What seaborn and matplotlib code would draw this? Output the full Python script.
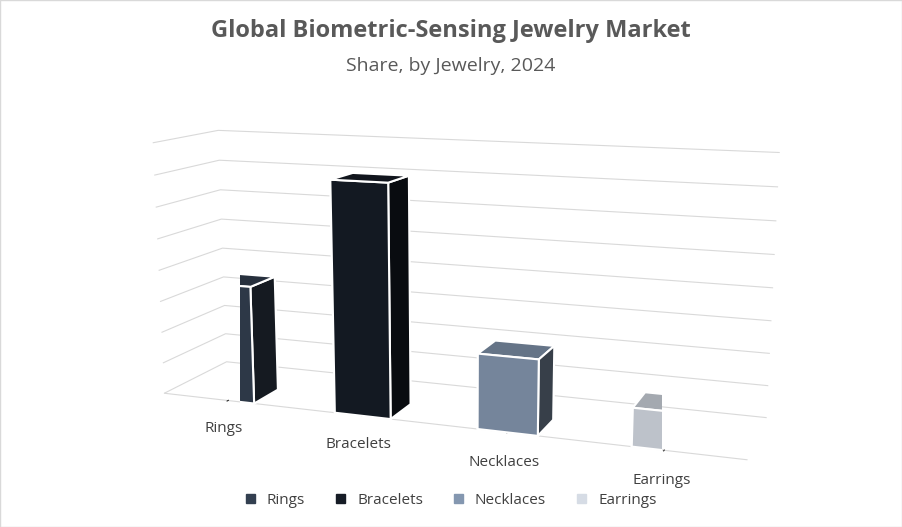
import numpy as np
import matplotlib.pyplot as plt
import seaborn as sns
from matplotlib.patches import Patch

categories = ['Rings', 'Bracelets', 'Necklaces', 'Earrings']
shares = [26, 50, 16, 8]
colors = ['#333f50', '#161c26', '#8497b0', '#d6dce5']

sns.set_style('white')
plt.rcParams['font.family'] = ['Open Sans', 'DejaVu Sans']

fig = plt.figure(figsize=(9.02, 5.27), dpi=100)
ax = fig.add_axes([0.0, 0.06, 1.0, 0.8], projection='3d')
ax.set_proj_type('persp', focal_length=0.6)

xs = np.arange(len(categories))
for x, v, c in zip(xs, shares, colors):
    ax.bar3d(x - 0.2, 0, 0, 0.4, 0.4, v, color=c, edgecolor='white',
             linewidth=1.5, shade=True)

ax.set_xlim(-0.5, 3.5)
ax.set_ylim(0, 1)
ax.set_zlim(0, 56)
ax.set_xticks(xs)
ax.set_xticklabels(categories, fontsize=11, color='#404040')
ax.set_yticks([])
ax.set_zticks(np.arange(0, 57, 7))
ax.set_zticklabels([])
for pane in (ax.xaxis.pane, ax.yaxis.pane, ax.zaxis.pane):
    pane.set_facecolor('white')
    pane.set_edgecolor('white')
ax.xaxis.line.set_color('#d9d9d9')
ax.yaxis.line.set_color((1, 1, 1, 0))
ax.zaxis.line.set_color((1, 1, 1, 0))
ax.grid(True)
for a in (ax.xaxis, ax.yaxis, ax.zaxis):
    a._axinfo['grid']['color'] = '#d9d9d9'
    a._axinfo['grid']['linewidth'] = 0.8
ax.xaxis._axinfo['grid']['color'] = (1, 1, 1, 0)
ax.yaxis._axinfo['grid']['color'] = (1, 1, 1, 0)
ax.zaxis._axinfo['tick']['inward_factor'] = 0
ax.zaxis._axinfo['tick']['outward_factor'] = 0
ax.xaxis._axinfo['tick']['color'] = '#d9d9d9'
ax.view_init(elev=12, azim=-70)
ax.set_box_aspect((4.6, 1, 2.0), zoom=1.55)

fig.text(0.5, 0.93, 'Global Biometric-Sensing Jewelry Market', ha='center',
         fontsize=17, fontweight='bold', color='#595959')
fig.text(0.5, 0.865, 'Share, by Jewelry, 2024', ha='center', fontsize=14,
         color='#595959')
handles = [Patch(color=c, label=l) for c, l in zip(colors, categories)]
fig.legend(handles=handles, loc='lower center', ncol=4, frameon=False,
           fontsize=11, handlelength=0.6, handleheight=0.6,
           bbox_to_anchor=(0.5, 0.01), labelcolor='#404040')
fig.patches.append(plt.Rectangle((0, 0), 1, 1, transform=fig.transFigure,
                                 fill=False, edgecolor='#d9d9d9', lw=1))
fig.savefig('out.png', dpi=100)
